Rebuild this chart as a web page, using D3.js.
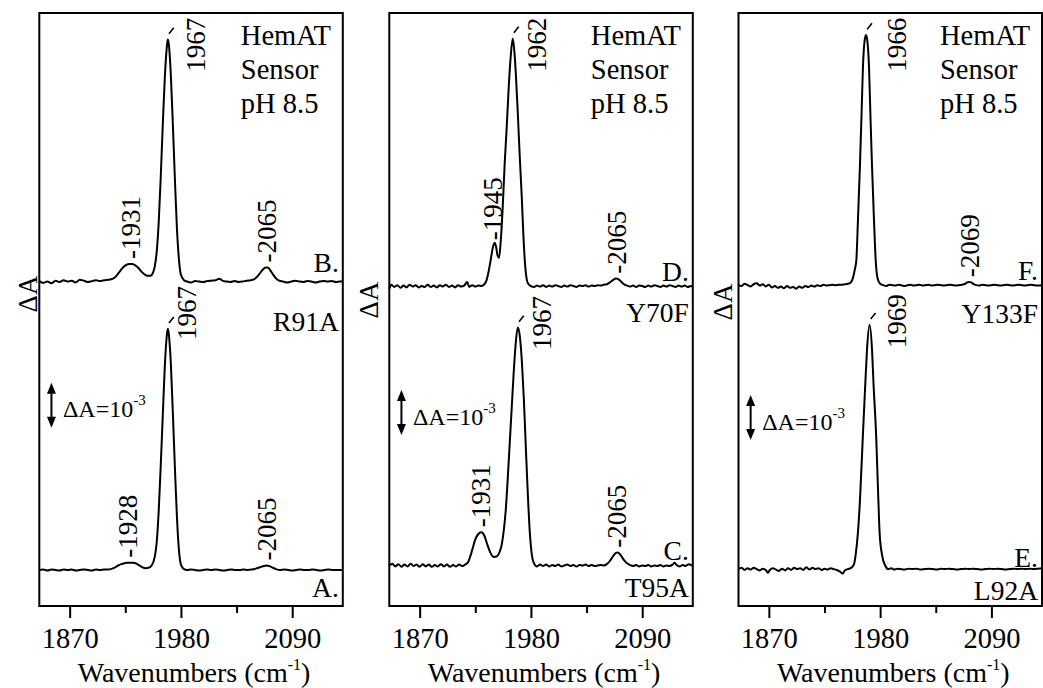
<!DOCTYPE html>
<html><head><meta charset="utf-8">
<script src="https://cdn.jsdelivr.net/npm/d3@7"></script>
<style>
body{margin:0;background:#fff}
</style>
</head><body>
<svg id="chart" width="1043" height="688" style="font-family:'Liberation Serif','Times New Roman',Times,'DejaVu Serif',serif"></svg>
<script>
// ---------------- data ----------------
const xDomain = [1840, 2140];
const majorTicks = [1870, 1980, 2090];
const minorTicks = [1925, 2035];
const headerLines = ["HemAT", "Sensor", "pH 8.5"];

// spectra: [wavenumber (cm-1), ΔA (×10^-3)]
const traceA = [[1840,0.0],[1844,0.01],[1848,-0.01],[1852,0.01],[1856,0.0],[1860,-0.01],[1864,0.01],[1868,0.0],[1872,0.01],[1876,-0.01],[1880,0.0],[1884,0.01],[1888,0.0],[1892,-0.01],[1896,0.01],[1900,0.0],[1904,0.01],[1908,0.01],[1912,0.03],[1915,0.06],[1918,0.1],[1921,0.13],[1924,0.15],[1927,0.16],[1930,0.16],[1933,0.16],[1936,0.14],[1939,0.1],[1942,0.06],[1945,0.04],[1948,0.05],[1951,0.1],[1954,0.28],[1956,0.6],[1958,1.3],[1960,2.3],[1962,3.4],[1964,4.5],[1966,5.2],[1967,5.36],[1968,5.25],[1970,4.6],[1972,3.5],[1974,2.3],[1976,1.2],[1978,0.45],[1980,0.12],[1983,0.02],[1986,0.0],[1990,0.01],[1994,0.0],[1998,-0.01],[2002,0.0],[2006,0.01],[2010,0.0],[2014,0.01],[2018,0.0],[2022,-0.01],[2026,0.0],[2030,0.01],[2034,0.0],[2038,0.0],[2042,0.01],[2046,0.0],[2050,0.01],[2054,0.03],[2058,0.06],[2062,0.09],[2065,0.1],[2068,0.08],[2071,0.05],[2074,0.02],[2078,0.0],[2082,0.01],[2086,0.0],[2090,-0.01],[2094,0.0],[2098,0.01],[2102,0.0],[2106,0.0],[2110,0.01],[2114,0.0],[2118,-0.01],[2122,0.0],[2126,0.01],[2130,0.0],[2134,0.0],[2140,0.0]];
const traceB = [[1840,0.01],[1844,-0.03],[1848,0.0],[1852,-0.04],[1856,0.02],[1860,-0.01],[1864,0.03],[1868,0.0],[1872,0.02],[1876,-0.02],[1880,0.04],[1884,0.02],[1888,-0.01],[1892,0.01],[1896,0.03],[1900,0.01],[1904,0.03],[1908,0.04],[1911,0.05],[1914,0.08],[1917,0.15],[1920,0.24],[1923,0.32],[1926,0.37],[1929,0.39],[1932,0.39],[1935,0.36],[1938,0.3],[1941,0.22],[1944,0.16],[1947,0.13],[1950,0.13],[1952,0.18],[1954,0.32],[1956,0.65],[1958,1.3],[1960,2.3],[1962,3.45],[1964,4.5],[1966,5.2],[1967,5.38],[1968,5.28],[1970,4.6],[1972,3.5],[1974,2.3],[1976,1.2],[1978,0.5],[1980,0.15],[1983,0.03],[1986,0.0],[1990,-0.02],[1994,0.01],[1998,0.0],[2002,-0.01],[2006,0.01],[2010,0.02],[2014,0.03],[2018,0.06],[2021,0.02],[2025,0.0],[2029,-0.01],[2033,0.01],[2037,-0.01],[2041,0.0],[2045,0.02],[2049,0.03],[2052,0.05],[2055,0.1],[2058,0.18],[2061,0.27],[2064,0.31],[2066,0.31],[2068,0.26],[2071,0.16],[2074,0.07],[2077,0.02],[2081,0.0],[2085,-0.02],[2089,0.0],[2093,0.02],[2097,0.0],[2101,-0.01],[2105,0.01],[2109,0.0],[2113,-0.02],[2117,0.0],[2121,0.01],[2125,0.0],[2129,0.01],[2133,-0.01],[2137,0.0],[2140,0.0]];
const traceC = [[1840,0.0],[1843,0.04],[1846,-0.02],[1849,0.03],[1852,-0.03],[1855,0.02],[1858,-0.02],[1861,0.04],[1864,-0.01],[1867,0.02],[1870,-0.03],[1873,0.03],[1876,-0.02],[1879,0.02],[1882,-0.03],[1885,0.01],[1888,-0.02],[1891,0.03],[1894,-0.02],[1897,0.02],[1900,-0.03],[1903,0.01],[1906,-0.02],[1909,0.02],[1912,-0.01],[1915,0.02],[1918,0.08],[1920,0.2],[1922,0.35],[1925,0.58],[1928,0.7],[1931,0.74],[1934,0.66],[1937,0.46],[1940,0.28],[1943,0.19],[1946,0.2],[1949,0.3],[1951,0.45],[1953,0.75],[1955,1.2],[1957,1.9],[1959,2.7],[1961,3.5],[1963,4.3],[1965,4.95],[1967,5.29],[1969,5.1],[1971,4.55],[1973,3.7],[1975,2.6],[1977,1.55],[1979,0.7],[1981,0.22],[1983,0.05],[1986,-0.02],[1989,0.02],[1992,-0.01],[1995,0.02],[1998,-0.02],[2001,0.01],[2004,-0.01],[2007,0.02],[2010,-0.02],[2013,0.0],[2016,0.02],[2019,-0.01],[2022,0.01],[2025,-0.02],[2028,0.01],[2031,0.0],[2034,0.02],[2037,-0.01],[2040,0.01],[2043,-0.01],[2046,0.0],[2049,0.01],[2052,0.0],[2055,0.03],[2058,0.1],[2061,0.2],[2064,0.28],[2066,0.29],[2069,0.22],[2072,0.12],[2075,0.05],[2078,0.01],[2081,-0.01],[2084,0.01],[2087,-0.02],[2090,0.0],[2093,-0.01],[2096,0.01],[2099,-0.02],[2102,0.0],[2105,-0.01],[2108,0.01],[2111,-0.02],[2114,0.0],[2117,-0.01],[2120,0.02],[2122,0.06],[2124,0.01],[2127,-0.02],[2130,0.01],[2133,-0.01],[2136,0.03],[2140,-0.01]];
const traceD = [[1840,-0.06],[1842,0.03],[1845,-0.02],[1848,0.02],[1851,-0.04],[1854,0.01],[1857,-0.03],[1860,0.03],[1863,-0.01],[1866,0.02],[1869,-0.03],[1872,0.0],[1875,-0.02],[1878,0.03],[1881,-0.02],[1884,0.01],[1887,-0.03],[1890,0.02],[1893,-0.01],[1896,0.03],[1899,-0.02],[1902,0.01],[1905,-0.03],[1908,0.02],[1911,-0.01],[1914,0.01],[1917,0.09],[1919,-0.02],[1922,0.02],[1925,-0.01],[1928,0.01],[1931,0.0],[1934,0.04],[1936,0.12],[1938,0.3],[1940,0.55],[1942,0.82],[1944,0.96],[1945.5,0.88],[1947,0.68],[1948.5,0.63],[1950,0.95],[1952,1.7],[1954,2.7],[1956,3.5],[1958,4.4],[1960,5.1],[1962,5.5],[1963.5,5.25],[1965,4.75],[1967,3.85],[1969,2.85],[1971,1.95],[1972.5,1.15],[1974,0.55],[1975.5,0.2],[1977,0.06],[1980,0.0],[1983,-0.02],[1986,0.01],[1989,-0.01],[1992,0.02],[1995,-0.02],[1998,0.01],[2001,-0.01],[2004,0.02],[2007,0.0],[2010,-0.02],[2013,0.01],[2016,-0.01],[2019,0.02],[2022,0.0],[2025,-0.02],[2028,0.01],[2031,0.0],[2034,0.02],[2037,-0.01],[2040,0.01],[2043,0.0],[2046,0.02],[2049,0.01],[2052,0.03],[2055,0.04],[2058,0.08],[2061,0.13],[2064,0.17],[2066,0.16],[2069,0.1],[2072,0.04],[2075,0.01],[2078,-0.01],[2081,0.01],[2084,-0.02],[2087,0.01],[2090,0.0],[2093,-0.02],[2096,0.01],[2099,-0.01],[2102,0.02],[2105,0.0],[2108,-0.02],[2111,0.01],[2114,-0.01],[2117,0.02],[2120,0.0],[2123,-0.02],[2126,0.01],[2129,-0.01],[2132,0.01],[2135,-0.02],[2138,0.0],[2140,-0.01]];
const traceE = [[1840,0.0],[1843,0.03],[1846,-0.02],[1849,0.02],[1852,-0.01],[1855,0.03],[1858,0.0],[1861,-0.03],[1864,0.01],[1867,-0.02],[1869,-0.08],[1871,-0.02],[1874,0.02],[1877,-0.01],[1880,-0.04],[1883,0.01],[1886,-0.03],[1889,0.02],[1892,-0.02],[1895,0.03],[1898,0.0],[1901,0.02],[1904,-0.02],[1907,0.04],[1910,-0.01],[1913,0.03],[1916,0.0],[1919,0.02],[1922,-0.02],[1925,0.01],[1928,-0.01],[1931,0.02],[1934,0.0],[1937,-0.02],[1940,-0.05],[1943,-0.1],[1945,-0.03],[1948,0.0],[1951,0.02],[1954,0.1],[1956,0.35],[1958,0.8],[1960,1.5],[1963,3.0],[1965.5,4.2],[1967,4.87],[1969.5,5.43],[1972,4.87],[1973.5,4.1],[1976,3.0],[1978,1.7],[1979.5,0.8],[1982,0.3],[1985,0.08],[1988,0.0],[1991,0.02],[1994,-0.01],[1997,0.01],[2000,0.0],[2004,-0.01],[2008,0.01],[2012,0.0],[2016,0.01],[2020,-0.01],[2024,0.0],[2028,0.01],[2032,0.0],[2036,-0.01],[2040,0.01],[2044,0.0],[2048,0.01],[2052,0.0],[2056,-0.01],[2060,0.0],[2064,0.01],[2068,0.0],[2072,0.01],[2076,0.0],[2080,-0.01],[2084,0.0],[2088,0.01],[2092,0.0],[2096,0.01],[2100,0.0],[2104,-0.01],[2108,0.0],[2112,0.01],[2116,0.0],[2120,0.01],[2124,0.0],[2128,0.01],[2132,0.0],[2136,0.01],[2140,0.02]];
const traceF = [[1840,0.01],[1843,-0.02],[1846,0.03],[1849,0.0],[1852,-0.03],[1855,0.02],[1858,0.04],[1861,-0.01],[1864,0.02],[1867,-0.03],[1870,0.01],[1873,-0.05],[1876,-0.02],[1879,-0.06],[1882,-0.03],[1885,-0.07],[1888,-0.02],[1891,-0.06],[1894,-0.04],[1897,-0.08],[1900,-0.03],[1903,-0.06],[1906,-0.02],[1909,-0.04],[1912,-0.01],[1915,-0.03],[1918,0.0],[1921,-0.02],[1924,0.01],[1927,-0.01],[1930,0.0],[1933,0.01],[1936,0.0],[1939,0.01],[1942,0.01],[1945,0.02],[1948,0.03],[1951,0.06],[1953,0.15],[1955,0.35],[1956.5,0.56],[1958,1.4],[1960,2.63],[1961.5,3.7],[1963,4.85],[1964.5,5.4],[1966,5.56],[1967.5,5.4],[1969,4.85],[1970.5,3.7],[1972,2.63],[1974,1.4],[1975.6,0.56],[1977.5,0.15],[1980,0.03],[1983,0.0],[1986,-0.02],[1989,0.01],[1992,0.0],[1995,-0.01],[1998,0.01],[2001,0.0],[2004,-0.02],[2007,0.0],[2010,0.01],[2013,-0.01],[2016,0.0],[2019,0.01],[2022,-0.01],[2025,0.0],[2028,0.01],[2031,-0.01],[2034,0.0],[2037,0.01],[2040,0.0],[2043,-0.01],[2046,0.0],[2049,0.01],[2052,0.0],[2055,-0.01],[2058,0.0],[2061,0.01],[2064,0.03],[2066,0.06],[2068,0.07],[2070,0.06],[2072,0.03],[2075,0.0],[2078,-0.01],[2081,0.01],[2084,0.0],[2087,-0.01],[2090,0.0],[2093,0.01],[2096,0.0],[2099,-0.01],[2102,0.0],[2105,0.01],[2108,0.0],[2111,-0.01],[2114,0.0],[2117,0.01],[2120,0.0],[2123,-0.01],[2126,0.0],[2129,0.01],[2132,0.0],[2135,-0.01],[2140,0.0]];

const traces = {A: traceA, B: traceB, C: traceC, D: traceD, E: traceE, F: traceF};
// vertical offset of each spectrum (×10^-3 ΔA)
const traceOffsets = {A: 0.0, B: 6.41, C: 0.1, D: 6.31, E: 0.02, F: 6.33};
const panelTraces = [["A", "B"], ["C", "D"], ["E", "F"]];

// small peak labels: [panel, trace, wavenumber, text]
const smallPeakLabels = [
  [0, "B", 1931, "-1931"], [0, "B", 2065, "-2065"],
  [0, "A", 1928, "-1928"], [0, "A", 2065, "-2065"],
  [1, "D", 1945, "-1945"], [1, "D", 2065, "-2065"],
  [1, "C", 1931, "-1931"], [1, "C", 2065, "-2065"],
  [2, "F", 2069, "-2069"]
];
// main peak labels: [panel, trace, peak wavenumber, text, label wn, label ΔA]
const mainPeakLabels = [
  [0, "B", 1967, "1967", 2003.5, 11.07],
  [0, "A", 1967, "1967", 1995.3, 5.11],
  [1, "D", 1962, "1962", 1994.6, 11.07],
  [1, "C", 1967, "1967", 2000.3, 4.89],
  [2, "F", 1966, "1966", 2006.0, 11.07],
  [2, "E", 1969.5, "1969", 2006.0, 4.93]
];
// right-hand labels: [panel, text, ΔA baseline]
const sideLabels = [
  [0, "B.", 6.63], [0, "R91A", 5.31], [0, "A.", -0.59],
  [1, "D.", 6.43], [1, "Y70F", 5.52], [1, "C.", 0.22], [1, "T95A", -0.59],
  [2, "F.", 6.44], [2, "Y133F", 5.48], [2, "E.", 0.07], [2, "L92A", -0.67]
];
// scale bar (ΔA = 10^-3): bottom of bar per panel
const scaleBarBottom = [3.16, 3.0, 2.89];
const scaleBarWn = 1852;

// ---------------- layout ----------------
const FONT = "'Liberation Serif','Times New Roman',Times,'DejaVu Serif',serif";
const panelLefts = [39.3, 389.3, 738.5];
const panelWidth = 303.5;
const frameTop = 13, frameBottom = 606;
const yLabelX = [36.5, 378, 731.5];
const yLabelY = [294, 300, 302];

const svg = d3.select("#chart");
const y = d3.scaleLinear().domain([-0.8, 12.378]).range([frameBottom, frameTop]);

function valueAt(tr, wn) {
  const i = d3.bisector(d => d[0]).left(tr, wn);
  if (i <= 0) return tr[0][1];
  if (i >= tr.length) return tr[tr.length - 1][1];
  const a = tr[i - 1], b = tr[i];
  return a[1] + (b[1] - a[1]) * (wn - a[0]) / (b[0] - a[0]);
}
function txt(g, size) {
  return g.append("text").style("font-family", FONT).style("font-size", size + "px").attr("fill", "#000");
}

panelLefts.forEach((L, p) => {
  const x = d3.scaleLinear().domain(xDomain).range([L, L + panelWidth]);
  const g = svg.append("g");

  // traces
  const line = d3.line().curve(d3.curveMonotoneX);
  panelTraces[p].forEach(k => {
    const off = traceOffsets[k];
    g.append("path")
      .attr("d", line(traces[k].map(d => [x(d[0]), y(d[1] + off)])))
      .attr("fill", "none").attr("stroke", "#000").attr("stroke-width", 2)
      .attr("stroke-linejoin", "round");
  });

  // frame
  g.append("rect").attr("x", L).attr("y", frameTop).attr("width", panelWidth).attr("height", frameBottom - frameTop)
    .attr("fill", "none").attr("stroke", "#000").attr("stroke-width", 2);

  // x axis
  const ax = g.append("g").attr("transform", `translate(0,${frameBottom})`)
    .call(d3.axisBottom(x).tickValues(majorTicks).tickSize(12).tickSizeOuter(0).tickPadding(10).tickFormat(d3.format("d")));
  ax.attr("font-family", null).attr("font-size", null);
  ax.select(".domain").remove();
  ax.selectAll("line").attr("stroke-width", 2);
  ax.selectAll("text").style("font-family", FONT).style("font-size", "28.5px");
  const axm = g.append("g").attr("transform", `translate(0,${frameBottom})`)
    .call(d3.axisBottom(x).tickValues(minorTicks).tickSize(7).tickSizeOuter(0).tickFormat(""));
  axm.select(".domain").remove();
  axm.selectAll("line").attr("stroke-width", 2);

  // axis title
  const t = txt(g, 28).attr("x", L + panelWidth / 2 + 3).attr("y", 681.5).attr("text-anchor", "middle");
  t.append("tspan").text("Wavenumbers (cm");
  t.append("tspan").style("font-size", "16px").attr("dy", -12).text("-1");
  t.append("tspan").attr("dy", 12).text(")");

  // y label
  txt(g, 27).attr("transform", `translate(${yLabelX[p]},${yLabelY[p]}) rotate(-90)`)
    .attr("text-anchor", "middle").text("ΔA");

  // header
  headerLines.forEach((s, i) => {
    txt(g, 28.5).attr("x", L + 201.5).attr("y", 44.5 + i * 34).text(s);
  });

  // scale bar
  const bx = x(scaleBarWn), yb = y(scaleBarBottom[p]), yt = y(scaleBarBottom[p] + 1);
  g.append("line").attr("x1", bx).attr("x2", bx).attr("y1", yt + 6).attr("y2", yb - 6)
    .attr("stroke", "#000").attr("stroke-width", 2);
  g.append("path").attr("d", `M${bx},${yt}L${bx - 4.5},${yt + 11}L${bx + 4.5},${yt + 11}Z`).attr("fill", "#000");
  g.append("path").attr("d", `M${bx},${yb}L${bx - 4.5},${yb - 11}L${bx + 4.5},${yb - 11}Z`).attr("fill", "#000");
  const st = txt(g, 24).attr("x", bx + 11.5).attr("y", y(scaleBarBottom[p] + 0.23));
  st.append("tspan").text("ΔA=10");
  st.append("tspan").style("font-size", "15px").attr("dy", -12).text("-3");

  // small peak labels
  smallPeakLabels.filter(d => d[0] === p).forEach(([pp, k, wn, s]) => {
    const v = valueAt(traces[k], wn) + traceOffsets[k];
    const dx = (s === "-1945") ? 6 : 9;
    txt(g, 27).attr("transform", `translate(${x(wn) + dx},${y(v) - 5}) rotate(-90)`).text(s);
  });

  // main peak labels with leader tick
  mainPeakLabels.filter(d => d[0] === p).forEach(([pp, k, wn, s, lw, lv]) => {
    const v = valueAt(traces[k], wn) + traceOffsets[k];
    const ax0 = x(wn), ay0 = y(v);
    g.append("line").attr("x1", ax0 + 1.2).attr("y1", ay0 - 5.8).attr("x2", ax0 + 6).attr("y2", ay0 - 11.8)
      .attr("stroke", "#000").attr("stroke-width", 1.6);
    txt(g, 27).attr("transform", `translate(${x(lw)},${y(lv)}) rotate(-90)`).text(s);
  });

  // side labels
  sideLabels.filter(d => d[0] === p).forEach(([pp, s, v]) => {
    txt(g, 27.5).attr("x", L + panelWidth - 4).attr("y", y(v)).attr("text-anchor", "end").text(s);
  });
});
</script>
</body></html>
